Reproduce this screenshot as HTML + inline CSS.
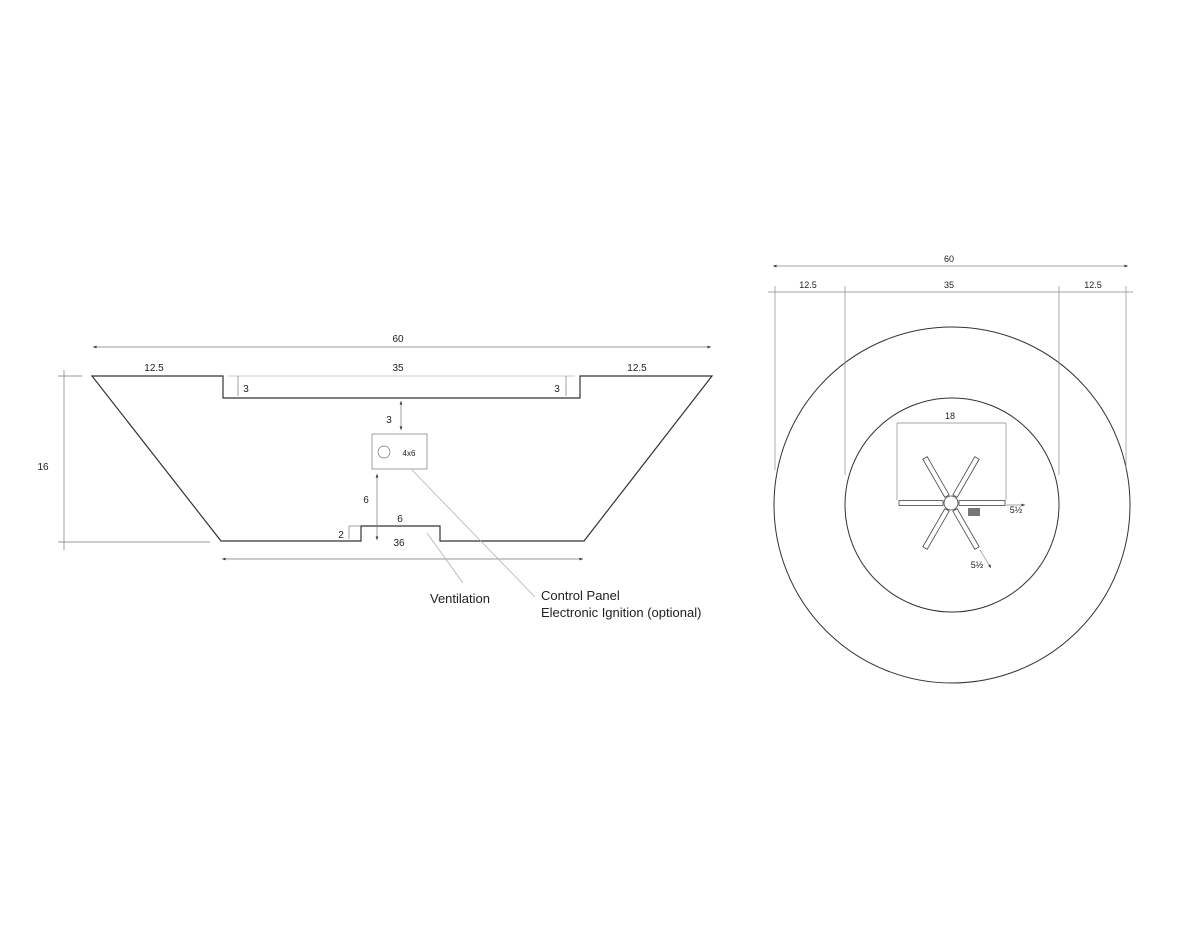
<!DOCTYPE html><html><head><style>body{margin:0;background:#fff}svg{display:block}text{font-family:"Liberation Sans",sans-serif;fill:#222}</style></head><body>
<svg width="1200" height="933" viewBox="0 0 1200 933" xmlns="http://www.w3.org/2000/svg">
<defs><marker id="a" markerWidth="6" markerHeight="6" refX="5" refY="3" orient="auto-start-reverse"><path d="M0,1 L5,3 L0,5" fill="#333"/></marker></defs>
<g fill="none" stroke="#333" stroke-width="1.2">
<path d="M92,376 L223,376 L223,398 L580,398 L580,376 L712,376 L584,541 L440,541 L440,526 L361,526 L361,541 L221,541 Z"/>
</g>
<g fill="none" stroke="#777" stroke-width="0.7">
<line x1="93" y1="347" x2="711" y2="347" marker-start="url(#a)" marker-end="url(#a)"/>
<line x1="222" y1="559" x2="583" y2="559" marker-start="url(#a)" marker-end="url(#a)"/>
<line x1="64" y1="370" x2="64" y2="550"/><line x1="58" y1="376" x2="82" y2="376"/><line x1="58" y1="542" x2="210" y2="542"/>
<line x1="228" y1="376" x2="575" y2="376" stroke="#bbb"/>
<line x1="238" y1="376" x2="238" y2="396"/><line x1="566" y1="376" x2="566" y2="396"/>
<line x1="349" y1="526" x2="349" y2="539"/><line x1="349" y1="526" x2="360" y2="526"/>
<rect x="372" y="434" width="55" height="35"/>
<circle cx="384" cy="452" r="6"/>
<line x1="401" y1="401" x2="401" y2="430" marker-start="url(#a)" marker-end="url(#a)"/>
<line x1="377" y1="474" x2="377" y2="540" marker-start="url(#a)" marker-end="url(#a)"/>
<line x1="412" y1="470" x2="535" y2="597" stroke="#aaa"/>
<line x1="427" y1="533" x2="463" y2="583" stroke="#aaa"/>
</g>
<g font-size="10" text-anchor="middle">
<text x="398" y="342">60</text><text x="154" y="371">12.5</text><text x="398" y="371">35</text><text x="637" y="371">12.5</text>
<text x="246" y="392">3</text><text x="557" y="392">3</text><text x="389" y="423">3</text>
<text x="43" y="470">16</text><text x="366" y="503">6</text><text x="400" y="522">6</text><text x="341" y="538">2</text><text x="399" y="546">36</text>
<text x="409" y="456" font-size="8">4x6</text>
</g>
<g font-size="13"><text x="430" y="603">Ventilation</text><text x="541" y="600">Control Panel</text><text x="541" y="617">Electronic Ignition (optional)</text></g>
<g fill="none" stroke="#333" stroke-width="1"><circle cx="952" cy="505" r="178"/><circle cx="952" cy="505" r="107"/></g>
<g fill="none" stroke="#888" stroke-width="0.7">
<line x1="773" y1="266" x2="1128" y2="266" marker-start="url(#a)" marker-end="url(#a)"/>
<line x1="768" y1="292" x2="1133" y2="292"/>
<line x1="775" y1="286" x2="775" y2="470"/><line x1="845" y1="286" x2="845" y2="475"/><line x1="1059" y1="286" x2="1059" y2="475"/><line x1="1126" y1="286" x2="1126" y2="470"/>
<line x1="897" y1="423" x2="1006" y2="423"/><line x1="897" y1="423" x2="897" y2="500"/><line x1="1006" y1="423" x2="1006" y2="500"/>
<line x1="1006" y1="505" x2="1025" y2="505" marker-end="url(#a)"/>
<line x1="980" y1="550" x2="991" y2="568" marker-end="url(#a)"/>
</g>
<g fill="#fff" stroke="#444" stroke-width="0.8">
<g transform="translate(951,503)">
<rect x="-52" y="-2.5" width="44" height="5"/><rect x="8" y="-2.5" width="46" height="5"/>
<g transform="rotate(-60)"><rect x="8" y="-2.5" width="44" height="5"/><rect x="-52" y="-2.5" width="44" height="5"/></g>
<g transform="rotate(60)"><rect x="8" y="-2.5" width="44" height="5"/><rect x="-52" y="-2.5" width="44" height="5"/></g>
<circle r="7"/>
</g></g>
<rect x="968" y="508" width="12" height="8" fill="#777"/>
<g font-size="9" text-anchor="middle">
<text x="949" y="262">60</text><text x="808" y="288">12.5</text><text x="949" y="288">35</text><text x="1093" y="288">12.5</text>
<text x="950" y="419">18</text><text x="1016" y="513">5½</text><text x="977" y="568">5½</text>
</g>
</svg></body></html>
